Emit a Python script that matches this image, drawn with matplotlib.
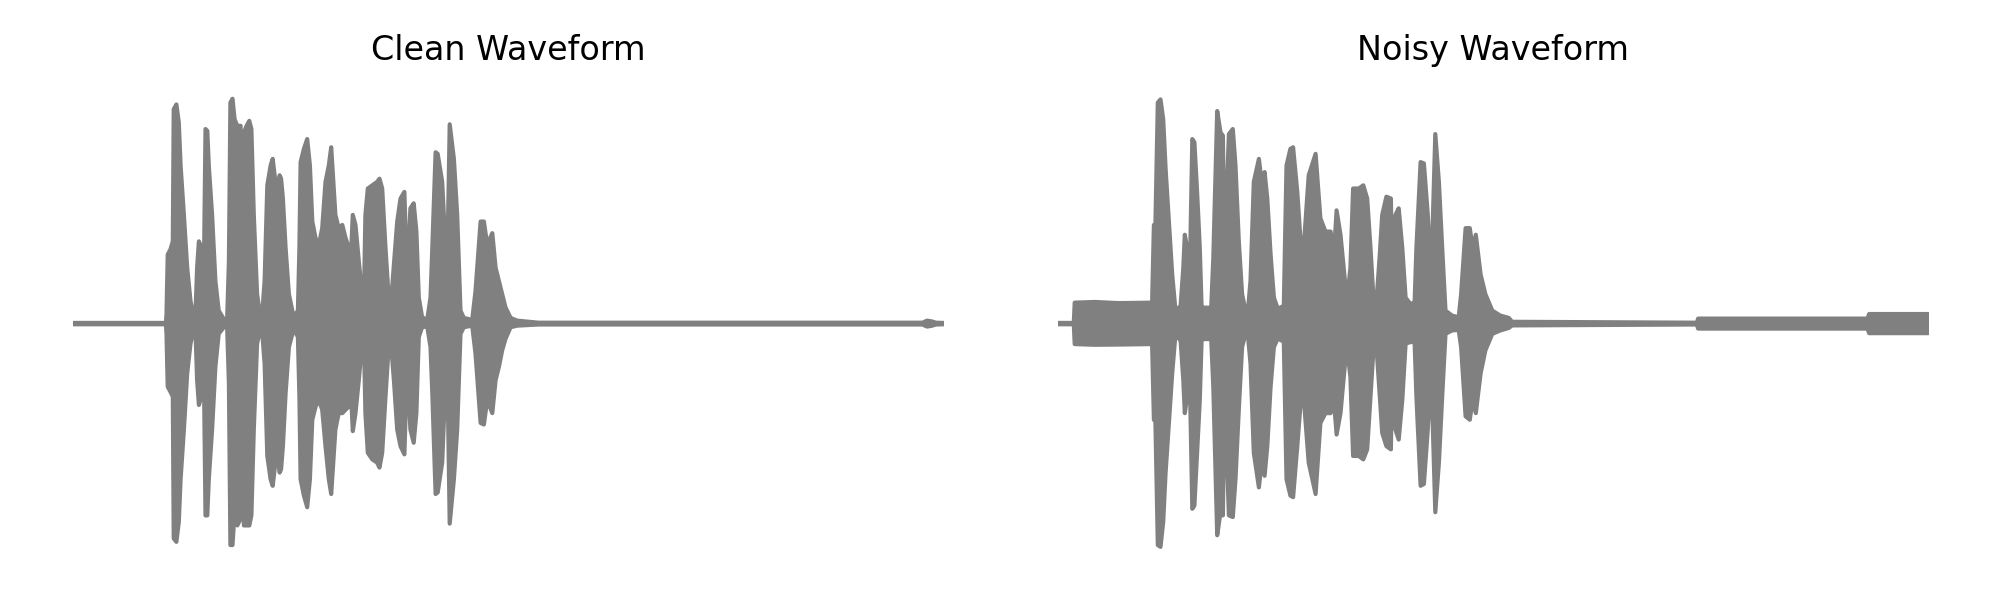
"""
Clean vs noisy waveform, side by side.
Envelope (upper / lower peak amplitude) read off the reference picture.
"""
import numpy as np
import matplotlib
matplotlib.use("Agg")
import matplotlib.pyplot as plt

# time (s), upper peak, lower peak -- clean signal
clean_t = [0.000, 0.308, 0.310, 0.314, 0.323, 0.331, 0.334, 0.343, 0.351, 0.357,
           0.368, 0.379, 0.390, 0.401, 0.407, 0.412, 0.418, 0.423, 0.429, 0.434,
           0.440, 0.446, 0.451, 0.462, 0.473, 0.484, 0.501, 0.512, 0.518, 0.523,
           0.530, 0.537, 0.546, 0.557, 0.562, 0.568, 0.577, 0.586, 0.593, 0.601,
           0.612, 0.623, 0.629, 0.637, 0.646, 0.657, 0.664, 0.673, 0.679, 0.687,
           0.692, 0.698, 0.707, 0.718, 0.734, 0.748, 0.753, 0.757, 0.768, 0.779,
           0.788, 0.796, 0.807, 0.818, 0.829, 0.840, 0.851, 0.859, 0.873, 0.884,
           0.896, 0.907, 0.918, 0.923, 0.931, 0.940, 0.951, 0.962, 0.968, 0.973,
           0.981, 0.996, 1.012, 1.020, 1.029, 1.040, 1.052, 1.057, 1.068, 1.079,
           1.090, 1.103, 1.112, 1.123, 1.134, 1.143, 1.151, 1.162, 1.179, 1.190,
           1.196, 1.207, 1.214, 1.229, 1.240, 1.246, 1.254, 1.268, 1.279, 1.290,
           1.301, 1.329, 1.340, 1.357, 1.368, 1.379, 1.396, 1.407, 1.418, 1.429,
           1.440, 1.457, 1.479, 1.550, 2.830, 2.845, 2.860, 2.875, 2.900]
clean_upper = [0.003, 0.003, 0.042, 0.303, 0.325, 0.361, 0.941, 0.962, 0.883, 0.694,
               0.477, 0.245, 0.100, 0.028, 0.057, 0.245, 0.361, 0.346, 0.187, 0.158,
               0.854, 0.846, 0.694, 0.477, 0.187, 0.057, 0.020, 0.013, 0.274, 0.970,
               0.987, 0.897, 0.868, 0.868, 0.245, 0.839, 0.868, 0.890, 0.854, 0.477,
               0.129, 0.028, 0.042, 0.187, 0.607, 0.694, 0.723, 0.622, 0.593, 0.651,
               0.636, 0.549, 0.332, 0.129, 0.028, 0.057, 0.332, 0.709, 0.767, 0.810,
               0.694, 0.448, 0.375, 0.346, 0.419, 0.622, 0.694, 0.774, 0.477, 0.419,
               0.433, 0.375, 0.332, 0.245, 0.477, 0.433, 0.274, 0.129, 0.100, 0.477,
               0.593, 0.607, 0.622, 0.636, 0.593, 0.332, 0.086, 0.071, 0.259, 0.448,
               0.549, 0.578, 0.187, 0.506, 0.528, 0.404, 0.114, 0.028, 0.016, 0.114,
               0.332, 0.752, 0.745, 0.622, 0.332, 0.259, 0.875, 0.723, 0.477, 0.057,
               0.025, 0.016, 0.143, 0.448, 0.448, 0.346, 0.397, 0.245, 0.187, 0.129,
               0.071, 0.025, 0.013, 0.004, 0.004, 0.013, 0.010, 0.004, 0.003]
clean_lower = [-0.003, -0.003, -0.045, -0.277, -0.299, -0.320, -0.943, -0.958, -0.871, -0.683,
               -0.465, -0.219, -0.088, -0.023, -0.045, -0.248, -0.357, -0.335, -0.219, -0.146,
               -0.842, -0.842, -0.683, -0.465, -0.190, -0.045, -0.016, -0.009, -0.262, -0.972,
               -0.972, -0.828, -0.886, -0.857, -0.219, -0.886, -0.886, -0.886, -0.842, -0.465,
               -0.088, -0.023, -0.038, -0.175, -0.581, -0.683, -0.712, -0.610, -0.567, -0.654,
               -0.639, -0.538, -0.306, -0.103, -0.023, -0.059, -0.320, -0.683, -0.755, -0.806,
               -0.683, -0.422, -0.364, -0.335, -0.378, -0.538, -0.683, -0.748, -0.465, -0.393,
               -0.393, -0.378, -0.364, -0.248, -0.472, -0.393, -0.248, -0.088, -0.059, -0.393,
               -0.567, -0.596, -0.610, -0.632, -0.567, -0.320, -0.074, -0.067, -0.248, -0.465,
               -0.538, -0.574, -0.175, -0.465, -0.523, -0.393, -0.059, -0.016, -0.012, -0.103,
               -0.306, -0.748, -0.741, -0.610, -0.248, -0.175, -0.878, -0.683, -0.465, -0.045,
               -0.016, -0.009, -0.132, -0.436, -0.443, -0.335, -0.393, -0.248, -0.190, -0.117,
               -0.067, -0.016, -0.009, -0.004, -0.004, -0.013, -0.010, -0.004, -0.003]

# same speech with added background noise
noisy_t = [0.000, 0.051, 0.054, 0.120, 0.200, 0.312, 0.318, 0.323, 0.331, 0.340,
           0.349, 0.357, 0.368, 0.379, 0.390, 0.398, 0.407, 0.416, 0.421, 0.429,
           0.437, 0.446, 0.453, 0.462, 0.471, 0.477, 0.484, 0.509, 0.516, 0.529,
           0.540, 0.548, 0.553, 0.568, 0.581, 0.590, 0.601, 0.612, 0.629, 0.640,
           0.651, 0.668, 0.677, 0.687, 0.696, 0.707, 0.718, 0.731, 0.751, 0.760,
           0.773, 0.782, 0.796, 0.807, 0.818, 0.834, 0.857, 0.873, 0.890, 0.907,
           0.918, 0.927, 0.940, 0.957, 0.964, 0.973, 0.982, 1.001, 1.016, 1.029,
           1.040, 1.051, 1.060, 1.071, 1.079, 1.093, 1.108, 1.112, 1.123, 1.134,
           1.146, 1.157, 1.173, 1.187, 1.193, 1.207, 1.218, 1.231, 1.242, 1.256,
           1.268, 1.279, 1.290, 1.312, 1.334, 1.342, 1.357, 1.371, 1.380, 1.391,
           1.407, 1.423, 1.446, 1.473, 1.501, 1.512, 2.128, 2.132, 2.697, 2.702,
           2.900]
noisy_upper = [0.003, 0.003, 0.092, 0.095, 0.090, 0.092, 0.433, 0.433, 0.970, 0.984,
               0.897, 0.680, 0.448, 0.216, 0.057, 0.065, 0.078, 0.245, 0.390, 0.332,
               0.158, 0.810, 0.796, 0.578, 0.332, 0.071, 0.070, 0.070, 0.288, 0.933,
               0.839, 0.825, 0.300, 0.832, 0.854, 0.694, 0.361, 0.129, 0.020, 0.187,
               0.622, 0.723, 0.622, 0.665, 0.549, 0.303, 0.114, 0.065, 0.078, 0.694,
               0.767, 0.774, 0.578, 0.361, 0.346, 0.651, 0.745, 0.462, 0.404, 0.404,
               0.303, 0.497, 0.390, 0.158, 0.129, 0.245, 0.593, 0.593, 0.607, 0.549,
               0.332, 0.086, 0.100, 0.303, 0.477, 0.557, 0.549, 0.187, 0.477, 0.506,
               0.332, 0.114, 0.086, 0.093, 0.332, 0.709, 0.703, 0.477, 0.187, 0.832,
               0.622, 0.332, 0.057, 0.035, 0.028, 0.129, 0.419, 0.419, 0.332, 0.390,
               0.216, 0.129, 0.057, 0.035, 0.025, 0.008, 0.004, 0.022, 0.022, 0.042,
               0.042]
noisy_lower = [-0.003, -0.003, -0.090, -0.093, -0.092, -0.090, -0.422, -0.430, -0.972, -0.980,
               -0.871, -0.654, -0.436, -0.219, -0.045, -0.060, -0.075, -0.248, -0.393, -0.320,
               -0.190, -0.813, -0.799, -0.567, -0.335, -0.074, -0.068, -0.068, -0.277, -0.929,
               -0.828, -0.842, -0.280, -0.842, -0.849, -0.683, -0.378, -0.103, -0.016, -0.175,
               -0.567, -0.719, -0.610, -0.668, -0.538, -0.277, -0.103, -0.065, -0.080, -0.683,
               -0.755, -0.762, -0.538, -0.349, -0.335, -0.610, -0.748, -0.436, -0.393, -0.393,
               -0.335, -0.487, -0.393, -0.146, -0.132, -0.233, -0.581, -0.581, -0.596, -0.552,
               -0.320, -0.088, -0.103, -0.320, -0.480, -0.538, -0.552, -0.175, -0.465, -0.509,
               -0.335, -0.088, -0.081, -0.081, -0.320, -0.712, -0.704, -0.465, -0.190, -0.828,
               -0.610, -0.320, -0.045, -0.030, -0.028, -0.103, -0.407, -0.422, -0.335, -0.393,
               -0.219, -0.117, -0.045, -0.030, -0.019, -0.008, -0.004, -0.022, -0.022, -0.042,
               -0.042]

titles = ["Clean Waveform", "Noisy Waveform"]
WAVE_COLOR = "gray"


def draw_waveform(ax, t, upper, lower, title):
    t = np.asarray(t)
    ax.fill_between(t, upper, lower, facecolor=WAVE_COLOR, edgecolor=WAVE_COLOR,
                    linewidth=1.5)
    ax.set_xlim(t[0], t[-1])
    ax.set_ylim(-1.01, 1.01)
    ax.set_title(title, fontsize=12, pad=12)
    ax.axis("off")


fig = plt.figure(figsize=(10, 3), dpi=200)
ax_clean = fig.add_axes([0.0365, 0.078, 0.435, 0.767])
ax_noisy = fig.add_axes([0.529, 0.078, 0.435, 0.767])

draw_waveform(ax_clean, clean_t, clean_upper, clean_lower, titles[0])
draw_waveform(ax_noisy, noisy_t, noisy_upper, noisy_lower, titles[1])

fig.savefig("out.png", dpi=200)
